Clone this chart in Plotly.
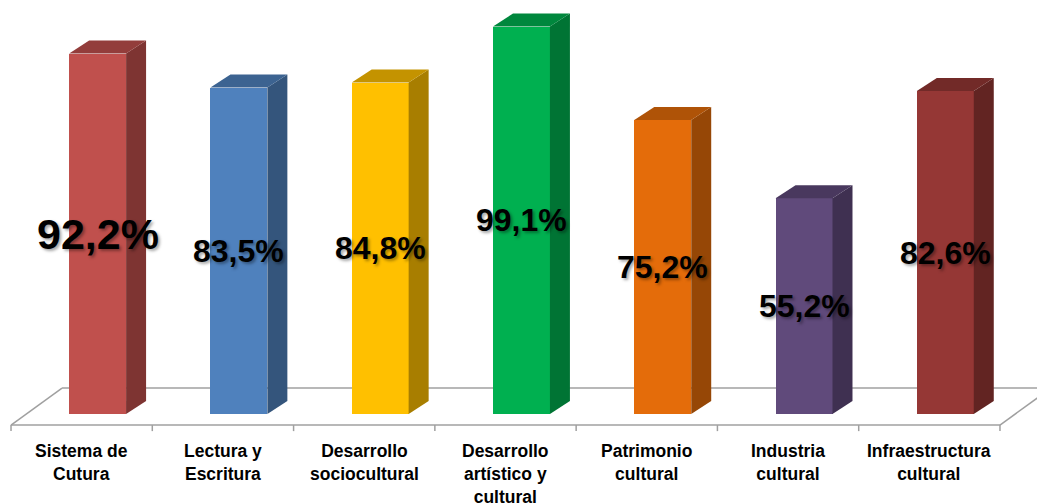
import plotly.graph_objects as go

categories = ["Sistema de<br>Cutura", "Lectura y<br>Escritura", "Desarrollo<br>sociocultural",
              "Desarrollo<br>artístico y<br>cultural", "Patrimonio<br>cultural",
              "Industria<br>cultural", "Infraestructura<br>cultural"]
values = [92.2, 83.5, 84.8, 99.1, 75.2, 55.2, 82.6]
value_labels = ["92,2%", "83,5%", "84,8%", "99,1%", "75,2%", "55,2%", "82,6%"]

front_colors = ["#C0504D", "#4F81BD", "#FFC000", "#00B050", "#E46C0A", "#604A7B", "#953735"]
label_sizes = [43, 32, 32, 32, 32, 32, 32]

SHIFT = 0.113   # bars sit behind the front edge of the floor
BW = 0.403      # bar width in category units
DX = 0.1415     # depth offset x (category units)
DY = 3.32       # depth offset y (value units)
FLOOR_FRONT = -2.81
FLOOR_BACK = 6.65
FLOOR_DX = 0.361


def scale(hexcol, f):
    h = hexcol.lstrip("#")
    r, g, b = (int(h[i:i + 2], 16) for i in (0, 2, 4))
    return "#%02X%02X%02X" % (int(r * f), int(g * f), int(b * f))


fig = go.Figure()
n = len(categories)
xs = [i + SHIFT for i in range(n)]

fig.add_trace(go.Bar(x=xs, y=values, width=BW, base=0,
                     marker=dict(color=front_colors, line=dict(width=0)),
                     hoverinfo="skip", showlegend=False))

for i, v in enumerate(values):
    xl = xs[i] - BW / 2
    xr = xs[i] + BW / 2
    # side face
    fig.add_trace(go.Scatter(x=[xr, xr + DX, xr + DX, xr, xr], y=[0, DY, v + DY, v, 0],
                             fill="toself", mode="lines", line=dict(width=0),
                             fillcolor=scale(front_colors[i], 0.66),
                             hoverinfo="skip", showlegend=False))
    # top face
    fig.add_trace(go.Scatter(x=[xl, xl + DX, xr + DX, xr, xl], y=[v, v + DY, v + DY, v, v],
                             fill="toself", mode="lines", line=dict(width=0),
                             fillcolor=scale(front_colors[i], 0.77),
                             hoverinfo="skip", showlegend=False))

shapes = []
gl = dict(color="#A0A0A0", width=1.5)
x0, x1 = -0.5, n - 0.5
shapes.append(dict(type="line", xref="x", yref="y", x0=x0, y0=FLOOR_FRONT, x1=x1, y1=FLOOR_FRONT, line=gl, layer="below"))
shapes.append(dict(type="line", xref="x", yref="y", x0=x0 + FLOOR_DX, y0=FLOOR_BACK, x1=x1 + FLOOR_DX, y1=FLOOR_BACK, line=gl, layer="below"))
shapes.append(dict(type="line", xref="x", yref="y", x0=x0, y0=FLOOR_FRONT, x1=x0 + FLOOR_DX, y1=FLOOR_BACK, line=gl, layer="below"))
shapes.append(dict(type="line", xref="x", yref="y", x0=x1, y0=FLOOR_FRONT, x1=x1 + FLOOR_DX, y1=FLOOR_BACK, line=gl, layer="below"))
for k in range(n + 1):
    shapes.append(dict(type="line", xref="x", yref="y", x0=k - 0.5, y0=FLOOR_FRONT, x1=k - 0.5, y1=FLOOR_FRONT - 1.55, line=gl, layer="below"))

annotations = []
for i, v in enumerate(values):
    annotations.append(dict(x=xs[i], y=v / 2, xref="x", yref="y", text=value_labels[i], showarrow=False,
                            xanchor="center", yanchor="middle",
                            font=dict(family="Liberation Sans, Arial, sans-serif", size=label_sizes[i], color="#000000",
                                      weight="bold", shadow="2px 2px 3px rgba(0,0,0,0.35)")))
for i, c in enumerate(categories):
    annotations.append(dict(x=i, y=-6.3, xref="x", yref="y", text=c, showarrow=False,
                            xanchor="center", yanchor="top", align="center",
                            font=dict(family="Liberation Sans, Arial, sans-serif", size=17.5, color="#000000",
                                      weight="bold")))

fig.update_layout(
    width=1037, height=504,
    margin=dict(l=0, r=0, t=0, b=0),
    paper_bgcolor="white", plot_bgcolor="white",
    xaxis=dict(range=[-0.578, 6.762], visible=False, fixedrange=True),
    yaxis=dict(range=[-23.0, 105.9], visible=False, fixedrange=True),
    shapes=shapes, annotations=annotations, bargap=0,
)

fig.write_html("out.html", config={"displayModeBar": False},
               post_script="document.body.style.margin='0';document.body.style.overflow='hidden';")
